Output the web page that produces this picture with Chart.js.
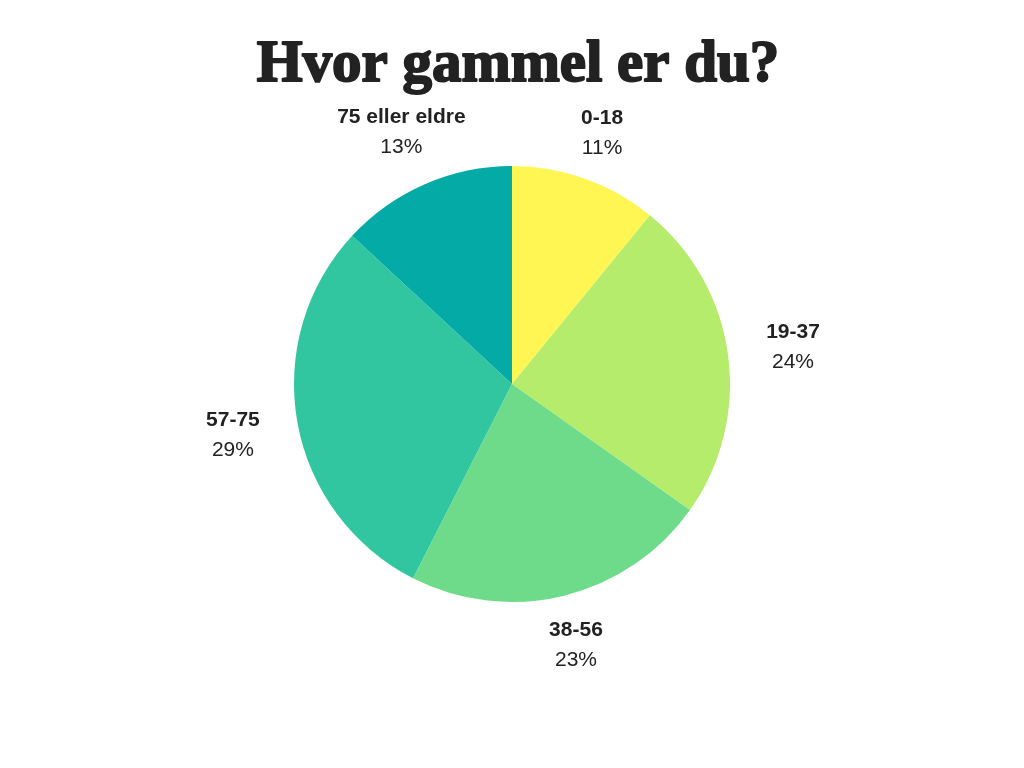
<!DOCTYPE html>
<html>
<head>
<meta charset="utf-8">
<script src="https://cdn.jsdelivr.net/npm/chart.js@4/dist/chart.umd.min.js"></script>
<style>
  html, body { margin: 0; padding: 0; background: #ffffff; }
  #wrap { width: 1024px; height: 768px; }
</style>
</head>
<body>
<div id="wrap"><canvas id="c" width="1024" height="768"></canvas></div>
<script>
const title = "Hvor gammel er du?";
const categories = ["0-18", "19-37", "38-56", "57-75", "75 eller eldre"];
const values = [10.9, 23.9, 22.7, 29.4, 13.1];
const percentLabels = ["11%", "24%", "23%", "29%", "13%"];
const colors = ["#FFF653", "#B5EC6C", "#6EDB8A", "#32C6A0", "#03AAA6"];

const titlePlugin = {
  id: 'titleText',
  afterDraw(chart) {
    const ctx = chart.ctx;
    ctx.save();
    ctx.fillStyle = '#222222';
    ctx.strokeStyle = '#222222';
    ctx.lineWidth = 2;
    ctx.lineJoin = 'round';
    ctx.font = 'bold 59px "Liberation Serif", "DejaVu Serif", serif';
    ctx.textAlign = 'center';
    ctx.textBaseline = 'alphabetic';
    ctx.fillText(title, 518, 81);
    ctx.strokeText(title, 518, 81);
    ctx.restore();
  }
};

const outsideLabels = {
  id: 'outsideLabels',
  afterDatasetsDraw(chart) {
    const ctx = chart.ctx;
    const meta = chart.getDatasetMeta(0);
    ctx.save();
    ctx.fillStyle = '#222222';
    ctx.textAlign = 'center';
    ctx.textBaseline = 'middle';
    meta.data.forEach((arc, i) => {
      const p = arc.getProps(['x', 'y', 'startAngle', 'endAngle', 'outerRadius'], true);
      const mid = (p.startAngle + p.endAngle) / 2;
      const s = Math.abs(Math.cos(mid));
      ctx.font = 'bold 21px "Liberation Sans", Arial, sans-serif';
      const w = ctx.measureText(categories[i]).width;
      const dist = p.outerRadius + 39.5 + 22 * s + 0.08 * w;
      const cx = p.x + Math.cos(mid) * dist;
      const cy = p.y + Math.sin(mid) * dist + 1.5;
      ctx.fillText(categories[i], cx, cy - 15);
      ctx.font = '21px "Liberation Sans", Arial, sans-serif';
      ctx.fillText(percentLabels[i], cx, cy + 15);
    });
    ctx.restore();
  }
};

new Chart(document.getElementById('c'), {
  type: 'pie',
  data: {
    labels: categories,
    datasets: [{
      data: values,
      backgroundColor: colors,
      borderWidth: 0
    }]
  },
  options: {
    responsive: false,
    animation: false,
    layout: { padding: { top: 166, bottom: 166, left: 294, right: 294 } },
    plugins: {
      legend: { display: false },
      tooltip: { enabled: false },
      title: { display: false }
    }
  },
  plugins: [titlePlugin, outsideLabels]
});
</script>
</body>
</html>
